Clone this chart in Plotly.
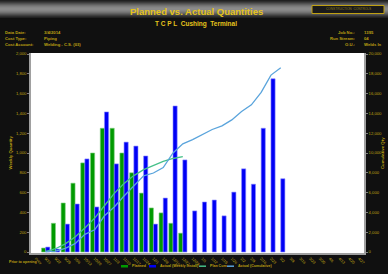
import math
import plotly.graph_objects as go

# ---------------- data ----------------
weeks = ["Prior", "9/15", "9/22", "9/29", "10/6", "10/13", "10/20", "10/27", "11/3",
         "11/10", "11/17", "11/24", "12/1", "12/8", "12/15", "12/22", "12/29",
         "1/5", "1/12", "1/19", "1/26", "2/2", "2/9", "2/16", "2/23", "3/2",
         "3/9", "3/16", "3/23", "3/30", "4/6", "4/13", "4/20", "4/27"]

planned_weekly = [40, 290, 495, 695, 900, 1000, 1250, 1250, 1000, 800, 595, 445, 395, 290, 190]
actual_weekly = [50, 30, 282, 485, 940, 455, 1415, 890, 1110, 1070, 970, 282, 545, 1475,
                 930, 415, 505, 525, 365, 605, 840, 685, 1250, 1750, 740]
planned_cum = [40, 330, 825, 1520, 2420, 3420, 4670, 5920, 6920, 7720, 8315, 8760,
               9155, 9445, 9635]
actual_cum = [50, 80, 362, 847, 1787, 2242, 3657, 4547, 5657, 6727, 7697, 7979, 8524,
              9999, 10929, 11344, 11849, 12374, 12739, 13344, 14184, 14869, 16119,
              17869, 18609]

series_names = ["Planned", "Actual (Weekly Install)", "Plan Cum", "Actual (Cumulative)"]

left_ticks = [0, 200, 400, 600, 800, 1000, 1200, 1400, 1600, 1800, 2000]
right_ticks = [0, 2000, 4000, 6000, 8000, 10000, 12000, 14000, 16000, 18000, 20000]

header_left = [("Data Date:", "3/4/2014"), ("Cost Type:", "Piping"),
               ("Cost Account:", "Welding - C.S. (03)")]
header_right = [("Job No.:", "1395"), ("Run Stream:", "04"), ("O.U.:", "Welds In")]

# ---------------- styling ----------------
W, H = 392, 277
L, R, T, B = 31, 364, 53, 253
GOLD = "#bfa012"
YEL = "#e6c41c"
FONT = "Liberation Sans"


def px(x):
    return (x - L) / (R - L)


def py(y):
    return (B - y) / (B - T)


def note(x, y, text, size, color=GOLD, xanchor="center", angle=0):
    return dict(x=px(x), y=py(y), xref="paper", yref="paper", xanchor=xanchor,
                yanchor="middle", text=text, showarrow=False, textangle=angle,
                font=dict(family=FONT, size=size, color=color))


fig = go.Figure()
fig.add_trace(go.Bar(x=weeks[1:1 + len(planned_weekly)], y=planned_weekly, name=series_names[0],
                     marker=dict(color="#009a00", line=dict(color="#7fcf7f", width=0.6))))
fig.add_trace(go.Bar(x=weeks[1:1 + len(actual_weekly)], y=actual_weekly, name=series_names[1],
                     marker=dict(color="#0000f5", line=dict(color="#8c8cff", width=0.6))))
fig.add_trace(go.Scatter(x=weeks[1:1 + len(planned_cum)], y=planned_cum, name=series_names[2],
                         yaxis="y2", mode="lines", line=dict(color="#46c08a", width=1.3)))
fig.add_trace(go.Scatter(x=weeks[1:1 + len(actual_cum)], y=actual_cum, name=series_names[3],
                         yaxis="y2", mode="lines", line=dict(color="#5aa4dc", width=1.3)))

shapes = []
shapes.append(dict(type="rect", xref="paper", yref="paper", x0=px(0), x1=px(388),
                   y0=py(274), y1=py(0), fillcolor="#101010", line=dict(width=0), layer="below"))
# white plot area on top of the dark panel
shapes.append(dict(type="rect", xref="paper", yref="paper", x0=0, x1=1, y0=0, y1=1,
                   fillcolor="#ffffff", line=dict(width=0), layer="below"))
for i in range(18):
    g = int(30 + 110 * math.sin(math.pi * (i + 0.5) / 18) ** 1.4)
    shapes.append(dict(type="rect", xref="paper", yref="paper", x0=px(0), x1=px(388),
                       y0=py(i + 1), y1=py(i), fillcolor=f"rgb({g},{g},{g})",
                       line=dict(width=0), layer="below"))
shapes.append(dict(type="rect", xref="paper", yref="paper", x0=px(312), x1=px(384),
                   y0=py(13.5), y1=py(5.5), fillcolor="#1a1a1a",
                   line=dict(color=GOLD, width=1)))

annotations = []
annotations.append(note(196, 12, "<b>Planned vs. Actual Quantities</b>", 9.5, YEL))
annotations.append(note(196, 24, "<b>T C P L  Cushing  Terminal</b>", 6.5, YEL))
annotations.append(note(348, 9.5, "CONSTRUCTION  CONTROLS", 3.2, "#8a7a20"))
for i, (lab, val) in enumerate(header_left):
    yy = 32 + 6 * i
    annotations.append(note(3, yy, f"<b>{lab}</b>", 4.2, xanchor="left"))
    annotations.append(note(42, yy, f"<b>{val}</b>", 4.2, xanchor="left"))
for i, (lab, val) in enumerate(header_right):
    yy = 32 + 6 * i
    annotations.append(note(357, yy, f"<b>{lab}</b>", 4.2, xanchor="right"))
    annotations.append(note(362, yy, f"<b>{val}</b>", 4.2, xanchor="left"))
annotations.append(note(9.5, 153, "<b>Weekly Quantity</b>", 4.3, angle=-90))
annotations.append(note(382, 153, "<b>Cumulative Qty</b>", 4.3, angle=-90))
annotations.append(note(7, 262, "<b>Prior to opening</b>", 3.6, xanchor="left"))

leg = [(121, "bar", "#009a00", series_names[0]),
       (149, "bar", "#0000f5", series_names[1]),
       (199, "line", "#46c08a", series_names[2]),
       (227, "line", "#5aa4dc", series_names[3])]
for x0, kind, col, name in leg:
    if kind == "bar":
        shapes.append(dict(type="rect", xref="paper", yref="paper", x0=px(x0), x1=px(x0 + 7),
                           y0=py(267.5), y1=py(265), fillcolor=col, line=dict(width=0)))
    else:
        shapes.append(dict(type="line", xref="paper", yref="paper", x0=px(x0), x1=px(x0 + 7),
                           y0=py(266.2), y1=py(266.2), line=dict(color=col, width=1.5)))
    annotations.append(note(x0 + 9, 266.3, f"<b>{name}</b>", 3.6, xanchor="left"))

scale_l = (left_ticks[-1] - left_ticks[0]) / (252 - 54)
scale_r = (right_ticks[-1] - right_ticks[0]) / (252 - 54)

fig.update_layout(
    width=W, height=H,
    margin=dict(l=L, r=W - R, t=T, b=H - B, pad=0, autoexpand=False),
    paper_bgcolor="#ffffff", plot_bgcolor="#ffffff",
    showlegend=False, barmode="group", bargap=0.15, bargroupgap=0.0,
    font=dict(family=FONT, color=GOLD),
    xaxis=dict(type="category", categoryorder="array", categoryarray=weeks,
               range=[-0.5, len(weeks) - 0.5], tickangle=45,
               tickfont=dict(family=FONT, size=3.8, color=GOLD),
               showline=True, linecolor="#a0a0a0", linewidth=2, ticks="",
               showgrid=False, zeroline=False),
    yaxis=dict(range=[left_ticks[0] - scale_l, left_ticks[-1] + scale_l],
               tickvals=left_ticks, tickformat=",d",
               tickfont=dict(family=FONT, size=4.2, color=GOLD),
               showline=True, linecolor="#a0a0a0", linewidth=1.5,
               ticks="outside", ticklen=2, tickcolor="#808080",
               showgrid=False, zeroline=False),
    yaxis2=dict(range=[right_ticks[0] - scale_r, right_ticks[-1] + scale_r],
                tickvals=right_ticks, tickformat=",d", overlaying="y", side="right",
                tickfont=dict(family=FONT, size=4.2, color=GOLD),
                showline=True, linecolor="#a0a0a0", linewidth=1.5,
                ticks="outside", ticklen=2, tickcolor="#808080",
                showgrid=False, zeroline=False),
    shapes=shapes, annotations=annotations,
)

fig.write_html("out.html")
